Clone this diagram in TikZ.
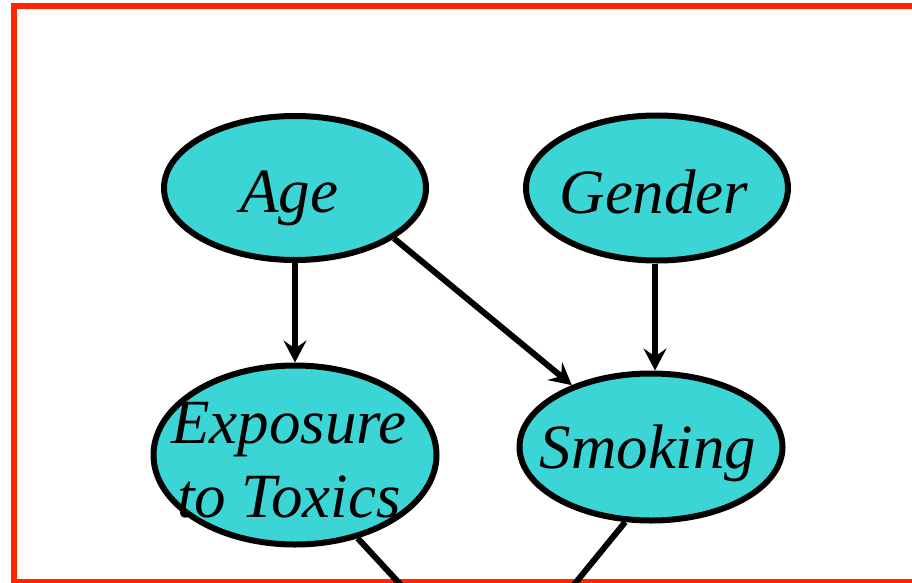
\documentclass[tikz,border=0pt]{standalone}
\usepackage{fontspec}
\setmainfont{Liberation Serif}
\usetikzlibrary{shapes.geometric,arrows.meta}
\definecolor{nodecyan}{RGB}{59,213,214}
\definecolor{framered}{RGB}{255,38,0}
\tikzset{
  varnode/.style={ellipse,draw=black,line width=6pt,fill=nodecyan,inner sep=0pt},
  varlabel/.style={inner sep=0pt,anchor=base,font=\fontsize{63}{74}\selectfont\itshape,align=center},
  edge/.style={line width=6pt,-{Stealth[length=22pt,width=23pt,inset=8pt]}},
  exitedge/.style={line width=6pt},
}
\begin{document}
\begin{tikzpicture}[x=1pt,y=-1pt]
\useasboundingbox (0,0) rectangle (912,583);
\begin{scope}
\clip (0,0) rectangle (912,583);
\draw[framered,line width=6pt] (14,6) rectangle (930,582);
\node[varnode,minimum width=262pt,minimum height=144pt] (age) at (295,188) {};
\node[varnode,minimum width=262pt,minimum height=145pt] (gender) at (657,188) {};
\node[varnode,minimum width=283pt,minimum height=179pt] (expo) at (295,455) {};
\node[varnode,minimum width=263pt,minimum height=147pt] (smoke) at (651,447) {};
\node[varlabel] (agel) at (289,212) {Age};
\node[varlabel] (genderl) at (654,213) {Gender};
\node[varlabel] (smokel) at (648,468) {Smoking};
\node[varlabel] (expol) at (289,517) {Exposure\\to Toxics};
\coordinate (exitA) at (412,597);
\coordinate (exitB) at (564,597);
\draw[edge] (age.south) -- (expo.north);
\draw[edge] (age.-27.5) -- (smoke.142.7);
\draw[edge] ([xshift=-2pt]gender.south) -- ([xshift=-2pt]gender.south |- smoke.north);
\draw[exitedge] (expo.-53.8) -- (exitA);
\draw[exitedge] (smoke.-109) -- (exitB);
\end{scope}
\end{tikzpicture}
\end{document}
